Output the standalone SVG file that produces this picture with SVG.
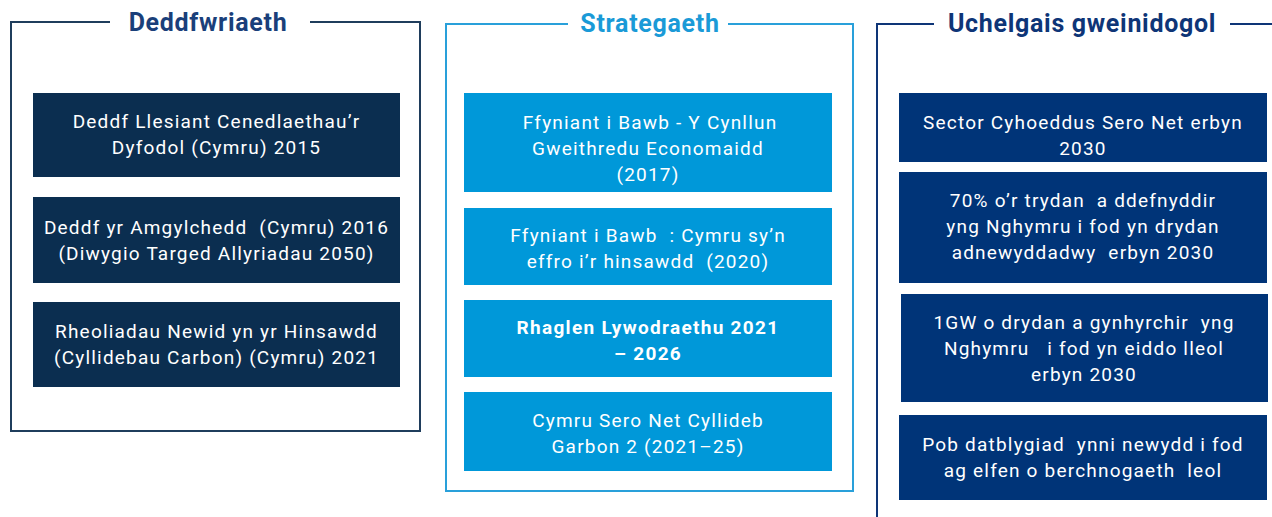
<svg xmlns="http://www.w3.org/2000/svg" width="1272" height="517" viewBox="0 0 1272 517">
<style>
.t{font-family:Roboto,"Liberation Sans",sans-serif;font-size:19px;letter-spacing:1.2px;fill:#ffffff;text-anchor:middle;white-space:pre}
.b{font-weight:bold;letter-spacing:1.3px}
.h{font-family:Roboto,"Liberation Sans",sans-serif;font-size:25px;font-weight:bold;letter-spacing:0.7px;text-anchor:middle}
.fr{fill:none;stroke-width:2}
.c1{fill:#0b2e50}
.c2{fill:#0098d9}
.c3{fill:#003478}
</style>
<rect width="1272" height="517" fill="#ffffff"/>
<g id="frame-deddfwriaeth">
<path class="fr" stroke="#1f3d5c" d="M110 22H11V431H420V22H310"/>
<text class="h" x="208" y="31" fill="#1a3f7a">Deddfwriaeth</text>
</g>
<g id="frame-strategaeth">
<path class="fr" stroke="#29a0da" d="M568 24H446V491H853V24H728"/>
<text class="h" x="650" y="32" fill="#1a9ad7">Strategaeth</text>
</g>
<g id="frame-uchelgais">
<path class="fr" stroke="#0e3577" d="M934 24H877V517M1230 24H1272"/>
<text class="h" x="1082" y="32" fill="#0e3577">Uchelgais gweinidogol</text>
</g>
<g id="connectors"></g>
<g id="l1"><rect class="c1" x="33" y="93" width="367" height="84"/>
<text class="t" x="216.5" y="128">Deddf Llesiant Cenedlaethau’r</text>
<text class="t" x="216.5" y="154">Dyfodol (Cymru) 2015</text></g>
<g id="l2"><rect class="c1" x="33" y="197" width="367" height="86"/>
<text class="t" x="216.5" y="234">Deddf yr Amgylchedd  (Cymru) 2016</text>
<text class="t" x="216.5" y="260">(Diwygio Targed Allyriadau 2050)</text></g>
<g id="l3"><rect class="c1" x="33" y="302" width="367" height="85"/>
<text class="t" x="216.5" y="338">Rheoliadau Newid yn yr Hinsawdd</text>
<text class="t" x="216.5" y="364">(Cyllidebau Carbon) (Cymru) 2021</text></g>
<g id="m1"><rect class="c2" x="464" y="93" width="368" height="99"/>
<text class="t" x="650" y="128.5">Ffyniant i Bawb - Y Cynllun</text>
<text class="t" x="648" y="154.5">Gweithredu Economaidd</text>
<text class="t" x="648" y="180.5">(2017)</text></g>
<g id="m2"><rect class="c2" x="464" y="208" width="368" height="77"/>
<text class="t" x="648" y="242">Ffyniant i Bawb  : Cymru sy’n</text>
<text class="t" x="648" y="268">effro i’r hinsawdd  (2020)</text></g>
<g id="m3"><rect class="c2" x="464" y="300" width="368" height="77"/>
<text class="t b" x="648" y="334">Rhaglen Lywodraethu 2021</text>
<text class="t b" x="648" y="360">– 2026</text></g>
<g id="m4"><rect class="c2" x="464" y="392" width="368" height="79"/>
<text class="t" x="648" y="427">Cymru Sero Net Cyllideb</text>
<text class="t" x="648" y="453">Garbon 2 (2021–25)</text></g>
<g id="r1"><rect class="c3" x="899" y="93" width="368" height="69"/>
<text class="t" x="1083" y="129">Sector Cyhoeddus Sero Net erbyn</text>
<text class="t" x="1083" y="155">2030</text></g>
<g id="r2"><rect class="c3" x="899" y="172" width="368" height="111"/>
<text class="t" x="1083" y="207">70% o’r trydan  a ddefnyddir</text>
<text class="t" x="1083" y="233">yng Nghymru i fod yn drydan</text>
<text class="t" x="1083" y="259">adnewyddadwy  erbyn 2030</text></g>
<g id="r3"><rect class="c3" x="901" y="294" width="367" height="108"/>
<text class="t" x="1084" y="328.5">1GW o drydan a gynhyrchir  yng</text>
<text class="t" x="1084" y="354.5">Nghymru   i fod yn eiddo lleol</text>
<text class="t" x="1084" y="380.5">erbyn 2030</text></g>
<g id="r4"><rect class="c3" x="899" y="415" width="368" height="85"/>
<text class="t" x="1083" y="451">Pob datblygiad  ynni newydd i fod</text>
<text class="t" x="1083" y="477">ag elfen o berchnogaeth  leol</text></g>
</svg>
